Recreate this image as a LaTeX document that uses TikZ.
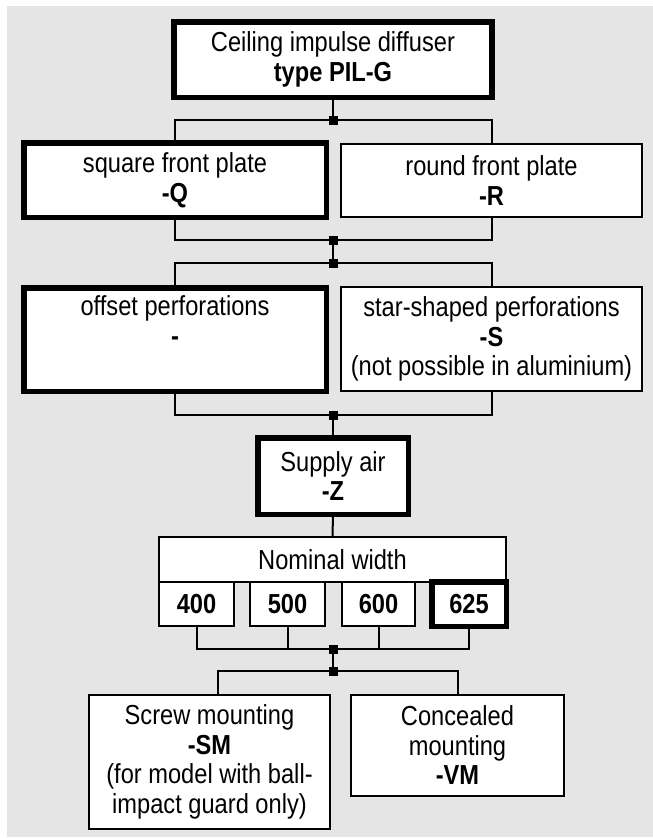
\documentclass[tikz,border=0pt]{standalone}
\usepackage{fontspec}
\setmainfont{Liberation Sans}[FakeStretch=0.86]
\definecolor{bggray}{RGB}{229,229,229}
\begin{document}
\begin{tikzpicture}[x=1pt,y=-1pt,
  every node/.style={font=\fontsize{27.5pt}{29.5pt}\selectfont, align=center, inner sep=0pt, outer sep=0pt},
  thinbox/.style={draw=black, fill=white, line width=2pt},
  thickbox/.style={draw=black, fill=white, line width=5.5pt},
  conn/.style={draw=black, line width=2pt},
  junc/.style={fill=black, minimum size=9pt, inner sep=0pt},
]
\useasboundingbox (0,0) rectangle (653,838);
\fill[bggray] (7,6) rectangle (653,837);

% main boxes
\node[thickbox, minimum width=318pt, minimum height=75.5pt] (top) at (333,59.5)
  {Ceiling impulse diffuser\\\textbf{type PIL-G}};
\node[thickbox, minimum width=302.5pt, minimum height=74.5pt] (sq) at (175,180)
  {square front plate\\\textbf{-Q}};
\node[thinbox, minimum width=301pt, minimum height=73pt] (rd) at (491.5,180.5)
  {round front plate\\\textbf{-R}};
\node[thickbox, minimum width=302.5pt, minimum height=103.5pt] (off) at (175,339.5)
  {offset perforations\\\textbf{-}\\\strut};
\node[thinbox, minimum width=301pt, minimum height=104pt] (star) at (491.5,339)
  {star-shaped perforations\\\textbf{-S}\\(not possible in aluminium)};
\node[thickbox, minimum width=150.5pt, minimum height=76.5pt] (supply) at (333,476)
  {Supply air\\\textbf{-Z}};
\node[thinbox, minimum width=347pt, minimum height=45pt] (nominal) at (332.5,559.5)
  {Nominal width};
\node[thinbox, minimum width=75pt, minimum height=44pt] (n400) at (196.5,604) {\textbf{400}};
\node[thinbox, minimum width=75pt, minimum height=44pt] (n500) at (287.5,604) {\textbf{500}};
\node[thinbox, minimum width=73pt, minimum height=44pt] (n600) at (378.5,604) {\textbf{600}};
\node[thickbox, minimum width=74.5pt, minimum height=44.5pt] (n625) at (469,604) {\textbf{625}};
\node[thinbox, minimum width=241pt, minimum height=134pt] (screw) at (209.5,762)
  {Screw mounting\\\textbf{-SM}\\(for model with ball-\\impact guard only)};
\node[thinbox, minimum width=213pt, minimum height=101pt] (conc) at (457.5,745.5)
  {Concealed\\mounting\\\textbf{-VM}};

% junction points
\coordinate (j1) at (333,120);
\coordinate (j2) at (333,240);
\coordinate (j3) at (333,263);
\coordinate (j4) at (333,415);
\coordinate (j5) at (333,649);
\coordinate (j6) at (333,671);

% connectors
\draw[conn] (top.south) -- (j1);
\draw[conn] (sq.north) |- (j1) -| (rd.north);
\draw[conn] (sq.south) |- (j2) -| (rd.south);
\draw[conn] (j2) -- (j3);
\draw[conn] (off.north) |- (j3) -| (star.north);
\draw[conn] (off.south) |- (j4) -| (star.south);
\draw[conn] (j4) -- (supply.north);
\draw[conn] (supply.south) -- (nominal.north);
\draw[conn] (n400.south) |- (j5) -| (n625.south);
\draw[conn] (n500.south) -- (n500.south |- j5);
\draw[conn] (n600.south) -- (n600.south |- j5);
\draw[conn] (j5) -- (j6);
\draw[conn] ([xshift=8.5pt]screw.north) |- (j6) -| (conc.north);

% junction squares
\node[junc] (J1) at (j1) {};
\node[junc] (J2) at (j2) {};
\node[junc] (J3) at (j3) {};
\node[junc] (J4) at (j4) {};
\node[junc] (J5) at (j5) {};
\node[junc] (J6) at (j6) {};
\end{tikzpicture}
\end{document}
